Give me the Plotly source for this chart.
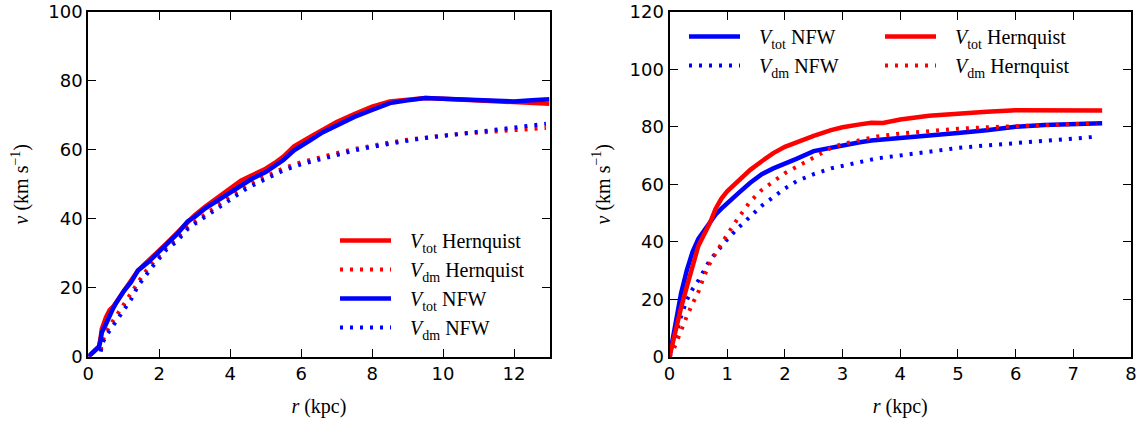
import plotly.graph_objects as go

# ---------------- left panel: rotation curves out to 13 kpc ----------------
r_tot_left = [0, 0.1, 0.2, 0.3, 0.34, 0.38, 0.5, 0.6, 0.7, 0.8, 0.9, 1.0, 1.2, 1.4, 1.5, 1.7,
              2.0, 2.2, 2.5, 2.8, 3.0, 3.3, 3.6, 4.0, 4.3, 4.6, 5.0, 5.3, 5.5, 5.8, 6.0, 6.3,
              6.6, 7.0, 7.5, 8.0, 8.5, 9.0, 9.5, 10.0, 10.5, 11.0, 11.5, 12.0, 12.5, 13.0]
vtot_hern_left = [0, 1.0, 2.0, 3.0, 5.0, 8.0, 11.5, 13.5, 14.5, 16.0, 17.5, 19.2, 21.8, 25.0, 26.0, 27.8,
                  30.8, 32.8, 36.0, 39.0, 41.0, 43.5, 45.8, 49.0, 51.0, 52.5, 54.5, 56.5, 58.0, 61.0, 62.3, 64.0,
                  65.7, 68.0, 70.3, 72.5, 74.0, 74.6, 75.0, 74.8, 74.5, 74.3, 74.0, 73.6, 73.4, 73.3]
vtot_nfw_left = [0, 1.0, 2.0, 2.8, 4.5, 7.0, 9.5, 12.0, 14.0, 15.8, 17.4, 19.0, 21.5, 25.0, 25.8, 27.5,
                 30.5, 32.5, 35.5, 39.2, 40.5, 43.0, 45.0, 47.5, 49.5, 51.5, 53.5, 55.5, 57.0, 59.8, 61.0, 63.0,
                 65.0, 67.0, 69.5, 71.5, 73.5, 74.3, 75.0, 74.8, 74.6, 74.5, 74.2, 74.0, 74.3, 74.6]

r_dm_left = [0.35, 0.4, 0.5, 0.6, 0.7, 0.8, 0.9, 1.0, 1.2, 1.4, 1.6, 1.8, 2.0, 2.2, 2.5, 2.8, 3.0,
             3.5, 4.0, 4.5, 5.0, 5.5, 6.0, 6.5, 7.0, 7.5, 8.0, 8.5, 9.0, 9.5, 10.0, 10.5, 11.0,
             11.5, 12.0, 12.5, 12.9]
vdm_hern_left = [2.0, 4.5, 7.0, 9.0, 10.5, 12.0, 13.5, 15.0, 18.0, 21.5, 24.5, 27.0, 29.5, 31.8, 34.5, 37.5, 39.0,
                 42.8, 46.5, 49.8, 52.2, 54.6, 56.4, 57.8, 59.0, 60.2, 61.2, 62.1, 62.9, 63.6, 64.1, 64.6, 65.0,
                 65.4, 65.7, 66.0, 66.3]
vdm_nfw_left = [1.5, 4.0, 6.0, 7.5, 8.5, 10.5, 12.0, 13.5, 16.5, 20.5, 23.5, 26.0, 28.5, 31.0, 33.5, 37.0, 38.5,
                42.0, 45.5, 49.0, 51.5, 54.0, 55.8, 57.2, 58.5, 59.8, 60.8, 61.8, 62.6, 63.4, 64.0, 64.6, 65.2,
                65.8, 66.3, 66.9, 67.5]

# ---------------- right panel: rotation curves out to 7.5 kpc ----------------
r_tot_right = [0, 0.05, 0.1, 0.15, 0.2, 0.3, 0.4, 0.5, 0.6, 0.7, 0.8, 0.9, 1.0, 1.2, 1.4, 1.6, 1.8,
               2.0, 2.2, 2.5, 2.8, 3.0, 3.3, 3.5, 3.7, 4.0, 4.5, 5.0, 5.5, 6.0, 6.5, 7.0, 7.5]
vtot_hern_right = [0, 4.5, 9.0, 13.0, 17.0, 24.3, 31.0, 38.5, 42.5, 46.5, 51.5, 55.0, 57.5, 61.5, 65.0, 68.0, 70.8,
                   73.0, 74.6, 76.8, 78.8, 79.8, 80.8, 81.4, 81.3, 82.5, 83.8, 84.6, 85.2, 85.7, 85.7, 85.6, 85.6]
vtot_nfw_right = [0, 6.0, 11.6, 17.0, 22.0, 30.0, 36.5, 41.0, 44.0, 47.0, 49.5, 51.5, 53.5, 57.0, 60.5, 63.5, 65.5,
                  67.0, 68.8, 71.5, 72.8, 73.5, 74.6, 75.2, 75.5, 76.0, 77.0, 77.8, 78.8, 80.0, 80.6, 81.0, 81.2]

r_dm_right = [0, 0.05, 0.1, 0.2, 0.3, 0.4, 0.5, 0.6, 0.7, 0.8, 0.9, 1.0, 1.2, 1.4, 1.6, 1.8, 2.0,
              2.2, 2.5, 2.8, 3.0, 3.3, 3.6, 4.0, 4.5, 5.0, 5.5, 6.0, 6.5, 7.0, 7.4]
vdm_hern_right = [0, 1.5, 4.0, 9.5, 14.0, 18.5, 22.5, 28.0, 32.5, 36.0, 39.5, 42.5, 48.5, 54.0, 58.0, 61.0, 63.8,
                  66.0, 69.2, 72.6, 74.0, 75.4, 76.6, 77.6, 78.6, 79.3, 79.8, 80.2, 80.6, 80.9, 81.2]
vdm_nfw_right = [0, 3.5, 7.0, 14.0, 19.7, 23.5, 26.5, 30.0, 33.6, 36.0, 38.5, 40.8, 45.0, 48.8, 52.5, 55.5, 58.5,
                 61.0, 63.5, 65.5, 66.3, 67.6, 69.0, 70.0, 71.4, 72.6, 73.5, 74.3, 75.2, 75.9, 76.5]

x_ticks_left = [0, 2, 4, 6, 8, 10, 12]
y_ticks_left = [0, 20, 40, 60, 80, 100]
x_ticks_right = [0, 1, 2, 3, 4, 5, 6, 7, 8]
y_ticks_right = [0, 20, 40, 60, 80, 100, 120]

RED = "#ff0000"
BLUE = "#0000ff"
SOLID_W = 4.5
DOT_W = 4
DOT = "3px,7px"
SERIF = "Liberation Serif"
GAP = "\u2002\u2009"  # extra room between legend sample and label

LBL_TOT_HERN = GAP + "<i>V</i><sub>tot</sub> Hernquist"
LBL_DM_HERN = GAP + "<i>V</i><sub>dm</sub> Hernquist"
LBL_TOT_NFW = GAP + "<i>V</i><sub>tot</sub> NFW"
LBL_DM_NFW = GAP + "<i>V</i><sub>dm</sub> NFW"

fig = go.Figure()


def curve(x, y, color, dotted, name, xaxis, yaxis, legend, group):
    line = dict(color=color, width=DOT_W if dotted else SOLID_W)
    if dotted:
        line["dash"] = DOT
    return go.Scatter(x=x, y=y, mode="lines", line=line, name=name,
                      xaxis=xaxis, yaxis=yaxis, legend=legend, legendgroup=group)


# left panel (Hernquist first, NFW drawn on top)
fig.add_trace(curve(r_tot_left, vtot_hern_left, RED, False, LBL_TOT_HERN, "x", "y", "legend", "a1"))
fig.add_trace(curve(r_dm_left, vdm_hern_left, RED, True, LBL_DM_HERN, "x", "y", "legend", "a2"))
fig.add_trace(curve(r_tot_left, vtot_nfw_left, BLUE, False, LBL_TOT_NFW, "x", "y", "legend", "a3"))
fig.add_trace(curve(r_dm_left, vdm_nfw_left, BLUE, True, LBL_DM_NFW, "x", "y", "legend", "a4"))

# right panel (NFW first, Hernquist drawn on top)
fig.add_trace(curve(r_tot_right, vtot_nfw_right, BLUE, False, LBL_TOT_NFW, "x2", "y2", "legend2", "b1"))
fig.add_trace(curve(r_dm_right, vdm_nfw_right, BLUE, True, LBL_DM_NFW, "x2", "y2", "legend2", "b2"))
fig.add_trace(curve(r_tot_right, vtot_hern_right, RED, False, LBL_TOT_HERN, "x2", "y2", "legend3", "c1"))
fig.add_trace(curve(r_dm_right, vdm_hern_right, RED, True, LBL_DM_HERN, "x2", "y2", "legend3", "c2"))

W, H = 1145, 422
y_dom = [1 - 356.7 / H, 1 - 11.7 / H]

axis_common = dict(
    showline=True, linewidth=2, linecolor="black", mirror="ticks",
    ticks="inside", ticklen=8, tickwidth=1, tickcolor="black",
    showgrid=False, zeroline=False,
    tickfont=dict(family="DejaVu Sans", size=18, color="black"),
)
title_font = dict(family=SERIF, size=20, color="black")

legend_common = dict(
    font=dict(family=SERIF, size=20, color="black"),
    bgcolor="rgba(0,0,0,0)", borderwidth=0,
    tracegroupgap=0, itemwidth=51,
    xanchor="left", yanchor="top",
)

fig.update_layout(
    width=W, height=H,
    margin=dict(l=0, r=0, t=0, b=0, autoexpand=False),
    paper_bgcolor="white", plot_bgcolor="white",
    xaxis=dict(domain=[88.3 / W, 549.5 / W], range=[0, 13], tickvals=x_ticks_left,
               anchor="y", title=dict(text="<i>r</i> (kpc)", font=title_font, standoff=16),
               **axis_common),
    yaxis=dict(domain=y_dom, range=[0, 100], tickvals=y_ticks_left, anchor="x",
               title=dict(text="<i>v</i> (km s<sup>−1</sup>)", font=title_font, standoff=14),
               **axis_common),
    xaxis2=dict(domain=[669.5 / W, 1131 / W], range=[0, 8], tickvals=x_ticks_right,
                anchor="y2", title=dict(text="<i>r</i> (kpc)", font=title_font, standoff=16),
                **axis_common),
    yaxis2=dict(domain=y_dom, range=[0, 120], tickvals=y_ticks_right, anchor="x2",
                title=dict(text="<i>v</i> (km s<sup>−1</sup>)", font=title_font, standoff=14),
                **axis_common),
    legend=dict(x=335 / W, y=1 - 221 / H, **legend_common),
    legend2=dict(x=684 / W, y=1 - 17 / H, **legend_common),
    legend3=dict(x=880 / W, y=1 - 17 / H, **legend_common),
    showlegend=True,
)

fig.write_html("out.html")
